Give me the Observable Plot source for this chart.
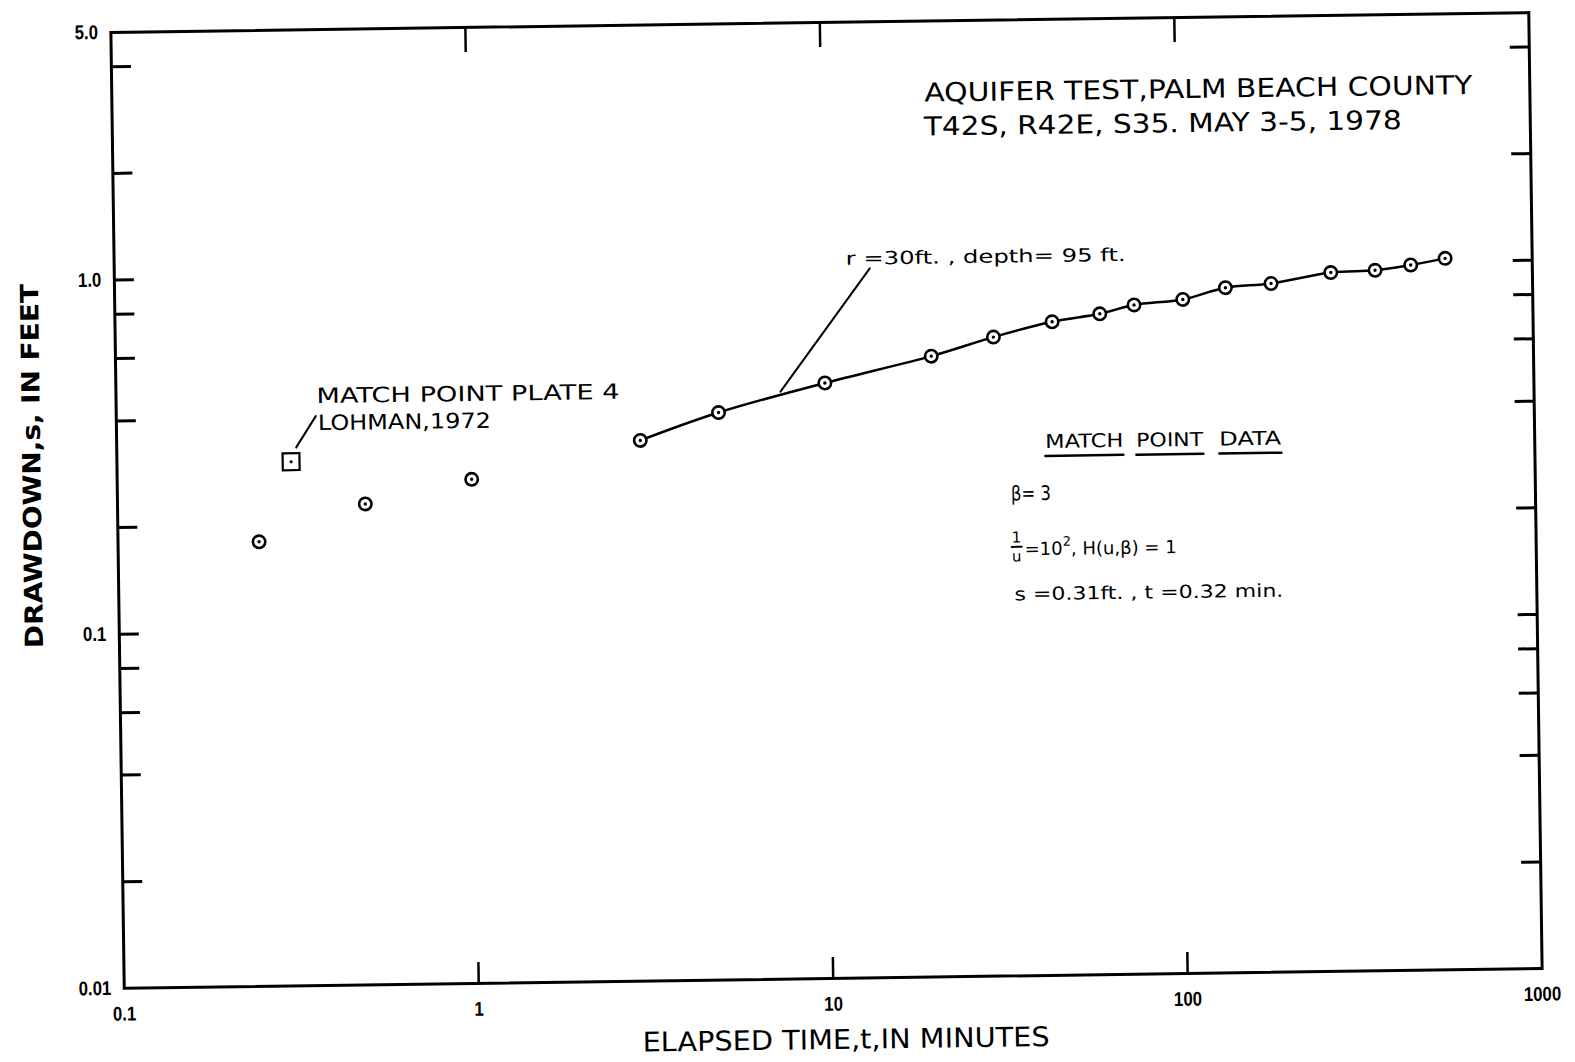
<!DOCTYPE html>
<html>
<head>
<meta charset="utf-8">
<script src="https://cdn.jsdelivr.net/npm/d3@7"></script>
<script src="https://cdn.jsdelivr.net/npm/@observablehq/plot@0.6"></script>
<style>
  html, body { margin: 0; padding: 0; background: #fff; overflow: hidden; }
  #chart svg { display: block; transform: rotate(-0.8deg); transform-origin: 826px 500px; }
</style>
</head>
<body>
<div id="chart"></div>
<script>
// ---------------- data ----------------
const earlyTime = [0.25, 0.5, 1];               // minutes
const earlyDrawdown = [0.18, 0.228, 0.265];     // feet
const curveTime = [3, 5, 10, 20, 30, 44, 60, 75, 103, 136, 183, 270, 360, 454, 568];
const curveDrawdown = [0.336, 0.40, 0.48, 0.566, 0.637, 0.70, 0.734, 0.775, 0.80, 0.86, 0.88, 0.94, 0.95, 0.98, 1.02];
const matchTime = [0.31];
const matchDrawdown = [0.302];

const xTickValues = [0.1, 1, 10, 100, 1000];
const xTickLabels = ["0.1", "1", "10", "100", "1000"];
const xInnerTicks = [1, 10, 100];
const yTickValues = [0.01, 0.1, 1, 5];
const yTickLabels = ["0.01", "0.1", "1.0", "5.0"];
const yInnerTicks = [0.02, 0.04, 0.06, 0.08, 0.1, 0.2, 0.4, 0.6, 0.8, 1, 2, 4];

const xTitle = "ELAPSED TIME,t,IN MINUTES";
const yTitle = "DRAWDOWN,s, IN FEET";
const titleLines = ["AQUIFER TEST,PALM BEACH COUNTY", "T42S, R42E, S35. MAY 3-5, 1978"];
const matchNote = ["MATCH POINT PLATE 4", "LOHMAN,1972"];
const curveNote = "r =30ft. , depth= 95 ft.";
const dataHeader = ["MATCH", "POINT", "DATA"];

// ---------------- build ----------------
const early = earlyTime.map((t, i) => ({t, s: earlyDrawdown[i]}));
const curve = curveTime.map((t, i) => ({t, s: curveDrawdown[i]}));
const match = matchTime.map((t, i) => ({t, s: matchDrawdown[i]}));
const allPts = early.concat(curve);

const W = 1575, H = 1062, mL = 117, mR = 40, mT = 22, mB = 84;
const innerW = W - mL - mR, innerH = H - mT - mB;
const FONT = "'DejaVu Sans', 'Liberation Sans', sans-serif";
const TICKFONT = "'Liberation Sans', 'DejaVu Sans', sans-serif";

const chart = Plot.plot({
  width: W, height: H,
  marginLeft: mL, marginRight: mR, marginTop: mT, marginBottom: mB,
  x: {type: "log", domain: [0.1, 1000]},
  y: {type: "log", domain: [0.01, 5]},
  style: {fontFamily: FONT, fontSize: "18px", color: "#000", background: "#fff"},
  marks: [
    Plot.ruleY(yInnerTicks, {stroke: "#000", strokeWidth: 3, insetRight: innerW - 20}),
    Plot.ruleY(yInnerTicks, {stroke: "#000", strokeWidth: 3, insetLeft: innerW - 19}),
    Plot.ruleX(xInnerTicks, {stroke: "#000", strokeWidth: 2.5, insetTop: innerH - 21}),
    Plot.ruleX(xInnerTicks, {stroke: "#000", strokeWidth: 2.5, insetBottom: innerH - 25}),
    Plot.frame({stroke: "#000", strokeWidth: 3}),
    Plot.axisX(xTickValues, {tickSize: 0, tickPadding: 18, label: null,
      tickFormat: d => xTickLabels[xTickValues.indexOf(d)]}),
    Plot.axisY(yTickValues, {tickSize: 0, tickPadding: 13, label: null,
      tickFormat: d => yTickLabels[yTickValues.indexOf(d)]}),
    Plot.line(curve, {x: "t", y: "s", curve: "catmull-rom", stroke: "#000", strokeWidth: 2.5}),
    Plot.dot(allPts, {x: "t", y: "s", r: 6.2, fill: "#fff", stroke: "#000", strokeWidth: 2.6}),
    Plot.dot(allPts, {x: "t", y: "s", r: 1.7, fill: "#000"}),
    Plot.dot(match, {x: "t", y: "s", symbol: "square", r: 9.5, fill: "#fff", stroke: "#000", strokeWidth: 2.2}),
    Plot.dot(match, {x: "t", y: "s", r: 1.6, fill: "#000"})
  ]
});
document.getElementById("chart").appendChild(chart);

const svg = d3.select(chart);
// tick label typography: taller, slightly condensed lettering like the reference
svg.selectAll('g[aria-label="x-axis tick label"], g[aria-label="y-axis tick label"]')
  .attr("font-size", 20).attr("font-family", TICKFONT).attr("font-weight", "bold");
svg.selectAll('g[aria-label="x-axis tick label"] text, g[aria-label="y-axis tick label"] text')
  .each(function () {
    const len = this.getComputedTextLength();
    if (len > 0) d3.select(this).attr("textLength", len * 0.84).attr("lengthAdjust", "spacingAndGlyphs");
  });

// ---------------- annotations ----------------
const g = svg.append("g").attr("font-family", FONT).attr("fill", "#000").attr("text-anchor", "start");
function txt(s, x, y, size, len, opts = {}) {
  const t = g.append("text").attr("x", x).attr("y", y).attr("font-size", size)
    .attr("text-anchor", opts.anchor || "start").text(s);
  if (len) t.attr("textLength", len).attr("lengthAdjust", opts.adjust || "spacingAndGlyphs");
  if (opts.weight) t.attr("font-weight", opts.weight);
  return t;
}
function line(x1, y1, x2, y2, w) {
  g.append("line").attr("x1", x1).attr("y1", y1).attr("x2", x2).attr("y2", y2)
    .attr("stroke", "#000").attr("stroke-width", w).attr("stroke-linecap", "round");
}

// title block
txt(titleLines[0], 930, 103, 26, 548);
txt(titleLines[1], 929, 137, 26, 478);

// axis titles
txt(xTitle, 635, 1049, 27, 407);
g.append("text").attr("transform", "translate(41,455) rotate(-90)")
  .attr("text-anchor", "middle").attr("font-size", 25).attr("font-weight", "bold")
  .attr("textLength", 364).attr("lengthAdjust", "spacingAndGlyphs").text(yTitle);

// match point note
txt(matchNote[0], 318, 396, 21, 303);
txt(matchNote[1], 319, 423, 21, 173);
line(297, 440, 317, 409, 2);

// curve note
txt(curveNote, 849, 265, 18, 280);
line(873, 269, 782, 391, 2);

// match point data
const hdr = [[1046, 78], [1137, 67], [1220, 62]];
dataHeader.forEach((w, i) => {
  txt(w, hdr[i][0], 451, 19, hdr[i][1]);
  line(hdr[i][0], 459, hdr[i][0] + hdr[i][1], 459, 2.5);
});
txt("β= 3", 1011, 503, 20, 40);
txt("1", 1016, 545, 15, null, {anchor: "middle"});
line(1011, 549.5, 1021, 549.5, 2);
txt("u", 1016, 564, 15, null, {anchor: "middle"});
const eq = g.append("text").attr("x", 1024).attr("y", 558).attr("font-size", 18).attr("text-anchor", "start");
eq.append("tspan").text("=10");
eq.append("tspan").attr("font-size", 13).attr("dy", -9).text("2");
eq.append("tspan").attr("dy", 9).text(", H(u,β) = 1");
txt("s =0.31ft. , t =0.32 min.", 1013, 603, 18, 269);
</script>
</body>
</html>
